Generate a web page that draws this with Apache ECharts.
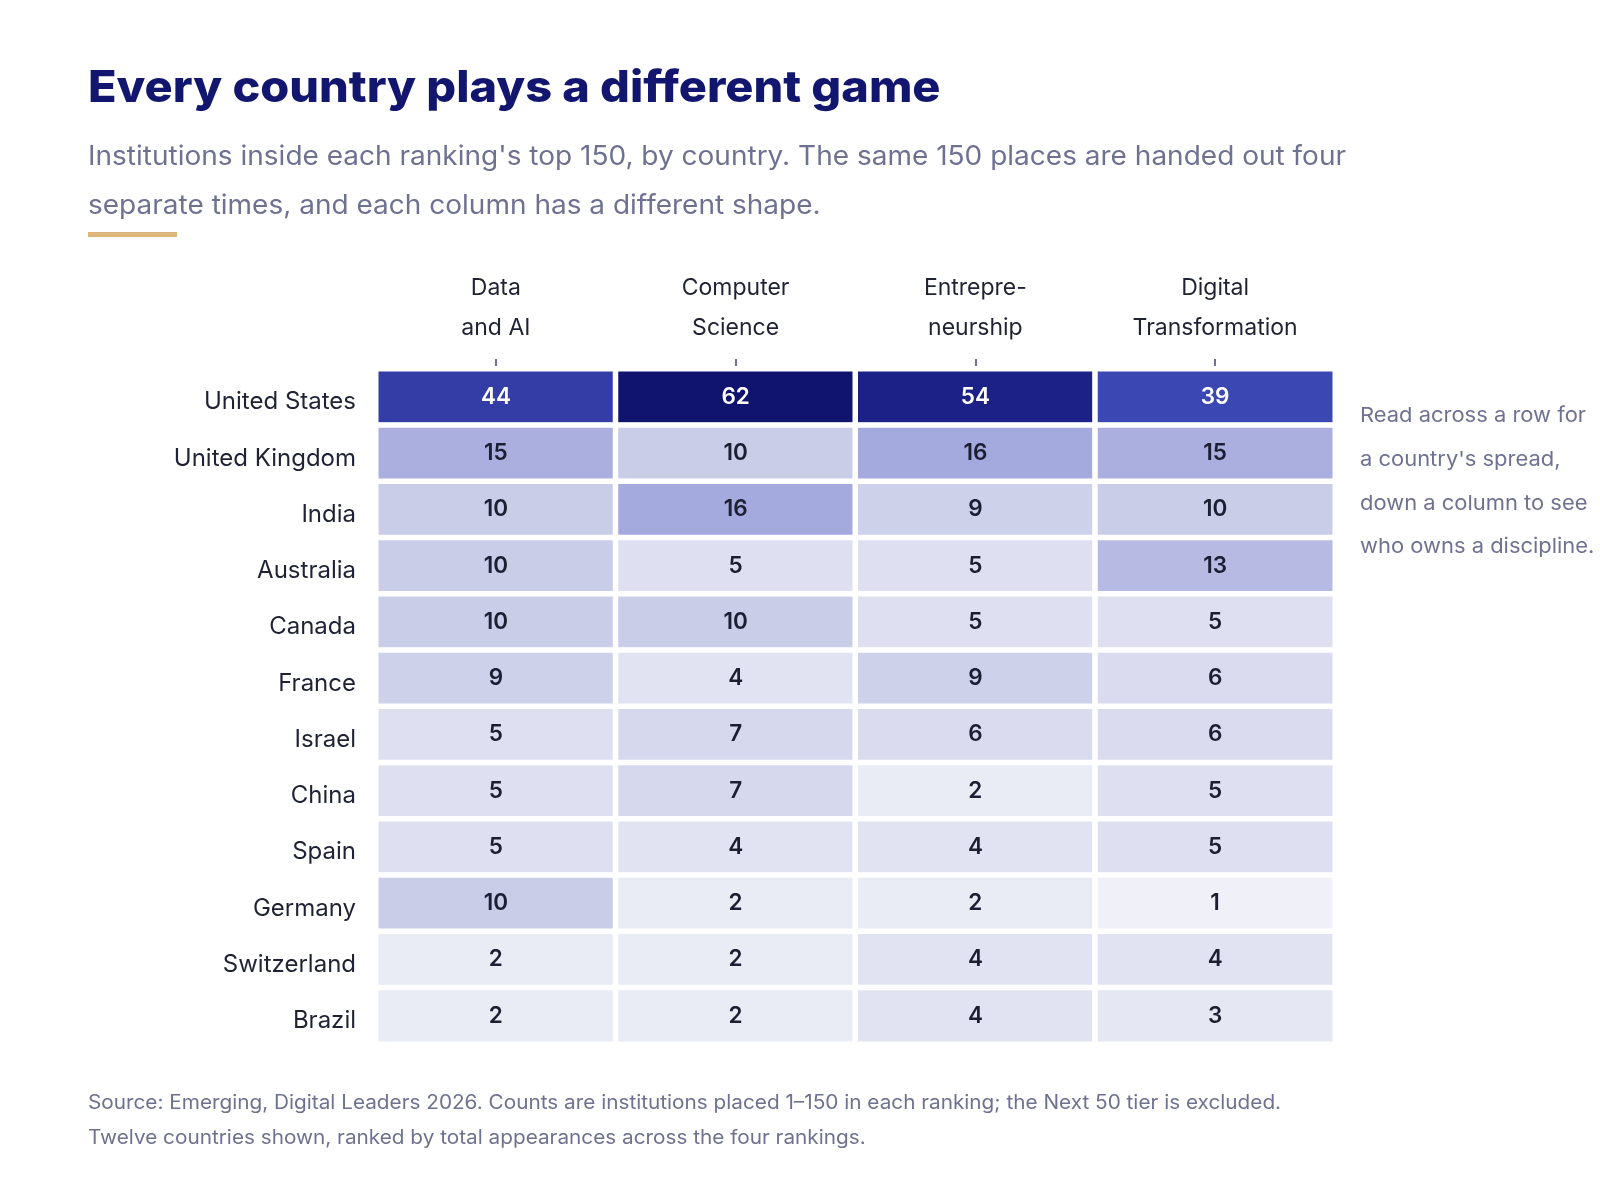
<!DOCTYPE html>
<html>
<head>
<meta charset="utf-8">
<script src="https://cdn.jsdelivr.net/npm/echarts@6/dist/echarts.min.js"></script>
<style>
html,body{margin:0;padding:0;background:#fff;}
#chart{width:1600px;height:1200px;}
</style>
</head>
<body>
<div id="chart"></div>
<script>
// ---- data ----
const countries = ['United States','United Kingdom','India','Australia','Canada','France','Israel','China','Spain','Germany','Switzerland','Brazil'];
const rankings = ['Data\nand AI','Computer\nScience','Entrepre-\nneurship','Digital\nTransformation'];
const dataAI   = [44,15,10,10,10,9,5,5,5,10,2,2];
const compSci  = [62,10,16,5,10,4,7,7,4,2,2,2];
const entre    = [54,16,9,5,5,9,6,2,4,2,4,4];
const digital  = [39,15,10,13,5,6,6,5,5,1,4,3];

const titleText = 'Every country plays a different game';
const subLines = ["Institutions inside each ranking's top 150, by country. The same 150 places are handed out four",
                  'separate times, and each column has a different shape.'];
const noteLines = ['Read across a row for', "a country's spread,", 'down a column to see', 'who owns a discipline.'];
const sourceLines = ['Source: Emerging, Digital Leaders 2026. Counts are institutions placed 1\u2013150 in each ranking; the Next 50 tier is excluded.',
                     'Twelve countries shown, ranked by total appearances across the four rankings.'];

// ---- colour scale ----
const colorStops = [[1,'#f0f1f8'],[2,'#e9ebf5'],[5,'#dedff0'],[10,'#c9cde8'],[16,'#a4a9de'],[39,'#3b48b3'],[44,'#333da5'],[54,'#1c2188'],[62,'#10146f']];
function hex2rgb(h){return [parseInt(h.slice(1,3),16),parseInt(h.slice(3,5),16),parseInt(h.slice(5,7),16)];}
function scaleColor(v){
  if(v<=colorStops[0][0]) return colorStops[0][1];
  for(let i=1;i<colorStops.length;i++){
    if(v<=colorStops[i][0]){
      const [a,ca]=colorStops[i-1],[b,cb]=colorStops[i];
      const t=(v-a)/(b-a), A=hex2rgb(ca), B=hex2rgb(cb);
      return 'rgb('+A.map((x,k)=>Math.round(x+(B[k]-x)*t)).join(',')+')';
    }
  }
  return colorStops[colorStops.length-1][1];
}

const columns = [dataAI, compSci, entre, digital];
const cells = [];
columns.forEach((col,ci)=>col.forEach((v,ri)=>cells.push({value:[ci,ri,v], label:{color: v>=30?'#ffffff':'#1c1f33'}})));

const FONT = 'Inter, "Noto Sans", sans-serif';
const grey = '#6e7290';

const graphics = [
  {type:'text', x:88, y:89, scaleX:1.065, style:{text:titleText, font:'800 44px '+FONT, fill:'#12166e', textVerticalAlign:'middle'}},
  {type:'rect', shape:{x:88,y:232,width:89,height:5}, style:{fill:'#dcb67a'}},
];
subLines.forEach((t,i)=>graphics.push({type:'text', x:88, y:157+i*49, scaleX:1.057, style:{text:t, font:'26.5px '+FONT, fill:grey, textVerticalAlign:'middle'}}));
noteLines.forEach((t,i)=>graphics.push({type:'text', x:1360, y:416+i*43.7, scaleX:1.07, style:{text:t, font:'20.5px '+FONT, fill:grey, textVerticalAlign:'middle'}}));
sourceLines.forEach((t,i)=>graphics.push({type:'text', x:88, y:1103+i*35, scaleX:1.064, style:{text:t, font:'19.5px '+FONT, fill:grey, textVerticalAlign:'middle'}}));

const chart = echarts.init(document.getElementById('chart'));
chart.setOption({
  backgroundColor:'#ffffff',
  animation:false,
  graphic: graphics,
  grid:{left:376, right:265, top:369, bottom:156},
  xAxis:{
    type:'category', data:rankings, position:'top', offset:2,
    axisLine:{show:false},
    axisTick:{show:true, alignWithLabel:true, length:8, lineStyle:{color:grey, width:2}},
    axisLabel:{fontFamily:FONT, fontSize:23, color:'#1f2233', lineHeight:40, margin:19},
    splitLine:{show:false}
  },
  yAxis:{
    type:'category', data:countries, inverse:true,
    axisLine:{show:false}, axisTick:{show:false},
    axisLabel:{fontFamily:FONT, fontSize:24, color:'#1f2233', margin:20, verticalAlign:'top', lineHeight:10},
    splitLine:{show:false}
  },
  series:[{
    type:'heatmap',
    data:cells,
    itemStyle:{
      borderColor:'#ffffff', borderWidth:5.5,
      color:(p)=>scaleColor(p.value[2])
    },
    label:{
      show:true, fontFamily:FONT, fontSize:22.5, fontWeight:600,
      formatter:(p)=>String(p.value[2])
    },
    emphasis:{disabled:true}
  }]
});
</script>
</body>
</html>
